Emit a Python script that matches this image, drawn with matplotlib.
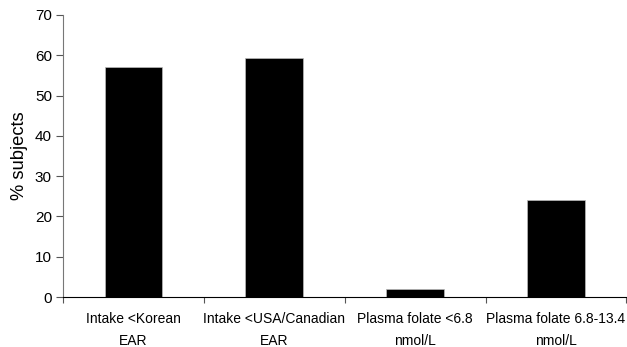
import matplotlib.pyplot as plt
import numpy as np

plt.rcParams['font.family'] = ['Liberation Sans', 'DejaVu Sans']

# data
categories = ["Intake <Korean\nEAR", "Intake <USA/Canadian\nEAR",
              "Plasma folate <6.8\nnmol/L", "Plasma folate 6.8-13.4\nnmol/L"]
pct_subjects = [57.1, 59.4, 1.9, 24.1]
y_ticks = [0, 10, 20, 30, 40, 50, 60, 70]

fig = plt.figure(figsize=(6.27, 3.47), dpi=100)
ax = fig.add_axes([0.1005, 0.144, 0.8985, 0.813])

x = np.arange(len(categories))
ax.bar(x, pct_subjects, width=0.41, color="black", edgecolor="#bbbbbb", linewidth=0.5)

ax.set_xlim(-0.5, len(categories) - 0.5)
ax.set_ylim(0, 70)
ax.set_yticks(y_ticks)
ax.set_xticks(x)
ax.set_xticklabels(categories, fontsize=10, linespacing=1.7)
ax.set_xticks(np.arange(len(categories) + 1) - 0.5, minor=True)
ax.tick_params(axis="x", which="major", length=0, pad=11)
ax.tick_params(axis="x", which="minor", length=4, width=0.8, color="#555555")
ax.tick_params(axis="y", length=5, width=0.8, color="#555555", labelsize=11, pad=3)

ax.set_ylabel("% subjects", fontsize=13.2, labelpad=5)

ax.spines["top"].set_visible(False)
ax.spines["right"].set_visible(False)
ax.spines["left"].set_color("#777777")
ax.spines["bottom"].set_color("black")

fig.savefig("out.png", dpi=100)
